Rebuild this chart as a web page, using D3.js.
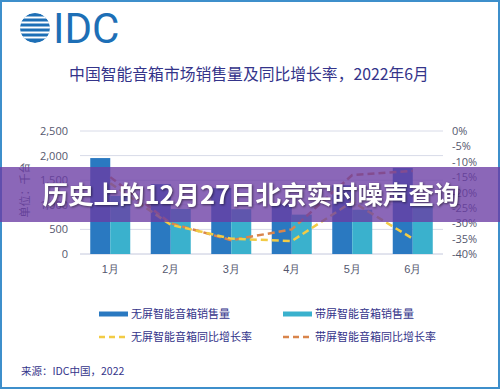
<!DOCTYPE html>
<html>
<head>
<meta charset="utf-8">
<script src="https://cdn.jsdelivr.net/npm/d3@7"></script>
<style>
  html, body { margin: 0; padding: 0; background: #fff; }
  svg { display: block; font-family: "Noto Sans CJK SC", "Noto Sans", sans-serif; }
</style>
</head>
<body>
<div id="chart"></div>
<script>
var width = 500, height = 389;

// data
var months = ["1月", "2月", "3月", "4月", "5月", "6月"];
var noScreenSales = [1950, 1420, 1340, 1020, 1400, 1750];
var screenSales = [1180, 915, 910, 800, 900, 1030];
var noScreenGrowth = [-17, -30.5, -35, -35.8, -23, -35];
var screenGrowth = [-15, -30, -35.5, -32, -14.3, -13];
var leftTicks = [0, 500, 1000, 1500, 2000, 2500];
var rightTicks = [0, -5, -10, -15, -20, -25, -30, -35, -40];

var svg = d3.select("#chart").append("svg")
    .attr("width", width)
    .attr("height", height);

svg.append("rect")
    .attr("x", 1).attr("y", 1)
    .attr("width", width - 2).attr("height", height - 2)
    .attr("fill", "#fff")
    .attr("stroke", "#3d8fcb")
    .attr("stroke-width", 2);

// IDC logo
var logo = svg.append("g");
logo.append("clipPath").attr("id", "globe")
    .append("circle").attr("cx", 35).attr("cy", 28).attr("r", 15);
var g = logo.append("g").attr("clip-path", "url(#globe)");
g.append("circle").attr("cx", 35).attr("cy", 28).attr("r", 15).attr("fill", "#1d6fb6");
[16.5, 21.5, 26.5, 31.5, 36.5].forEach(function (y) {
    g.append("rect").attr("x", 18).attr("y", y).attr("width", 34).attr("height", 2).attr("fill", "#fff");
});
logo.append("text")
    .attr("x", 53).attr("y", 43)
    .attr("fill", "#1d6fb6")
    .style("font-family", "Roboto, 'DejaVu Sans', sans-serif")
    .style("font-size", "42px")
    .text("IDC");

svg.append("text")
    .attr("x", 249).attr("y", 80)
    .attr("text-anchor", "middle")
    .attr("fill", "#34348a")
    .style("font-size", "15.8px")
    .text("中国智能音箱市场销售量及同比增长率，2022年6月");

var x = d3.scaleBand().domain(months).range([80, 443]);
var y = d3.scaleLinear().domain([0, 2500]).range([254, 131]);
var y2 = d3.scaleLinear().domain([-40, 0]).range([254, 131]);

// gridlines
svg.append("g")
    .selectAll("line")
    .data(leftTicks)
    .enter().append("line")
    .attr("x1", 80).attr("x2", 443)
    .attr("y1", function (d) { return y(d); })
    .attr("y2", function (d) { return y(d); })
    .attr("stroke", function (d) { return d === 0 ? "#c4c8dc" : "#d8dbe8"; })
    .attr("stroke-width", 1);

var leftAxis = svg.append("g")
    .attr("transform", "translate(71,0)")
    .call(d3.axisLeft(y).tickValues(leftTicks).tickSize(0).tickFormat(d3.format(",")));
leftAxis.select(".domain").remove();
leftAxis.selectAll("text").attr("fill", "#55576e").style("font-size", "11px")
    .style("font-family", "'Open Sans', 'Noto Sans', sans-serif");

var rightAxis = svg.append("g")
    .attr("transform", "translate(449,0)")
    .call(d3.axisRight(y2).tickValues(rightTicks).tickSize(0).tickFormat(function (d) { return d + "%"; }));
rightAxis.select(".domain").remove();
rightAxis.selectAll("text").attr("fill", "#55576e").style("font-size", "11px")
    .style("font-family", "'Open Sans', 'Noto Sans', sans-serif");

var bottomAxis = svg.append("g")
    .attr("transform", "translate(0,262)")
    .call(d3.axisBottom(x).tickSize(0));
bottomAxis.select(".domain").remove();
bottomAxis.selectAll("text").attr("fill", "#55576e").style("font-size", "11px");

svg.append("text")
    .attr("transform", "translate(29,190) rotate(-90)")
    .attr("text-anchor", "middle")
    .attr("fill", "#55576e")
    .style("font-size", "11px")
    .text("单位：千台");

// bars
var bw = 20;
svg.append("g").selectAll("rect")
    .data(noScreenSales)
    .enter().append("rect")
    .attr("x", function (d, i) { return x(months[i]) + x.bandwidth() / 2 - bw; })
    .attr("y", function (d) { return y(d); })
    .attr("width", bw)
    .attr("height", function (d) { return y(0) - y(d); })
    .attr("fill", "#2a79c1");

svg.append("g").selectAll("rect")
    .data(screenSales)
    .enter().append("rect")
    .attr("x", function (d, i) { return x(months[i]) + x.bandwidth() / 2; })
    .attr("y", function (d) { return y(d); })
    .attr("width", bw)
    .attr("height", function (d) { return y(0) - y(d); })
    .attr("fill", "#3ab1cd");

var line = d3.line()
    .x(function (d, i) { return x(months[i]) + x.bandwidth() / 2; })
    .y(function (d) { return y2(d); });

svg.append("path")
    .datum(screenGrowth)
    .attr("d", line)
    .attr("fill", "none")
    .attr("stroke", "#d9854c")
    .attr("stroke-width", 2.5)
    .attr("stroke-dasharray", "7,4");

svg.append("path")
    .datum(noScreenGrowth)
    .attr("d", line)
    .attr("fill", "none")
    .attr("stroke", "#f2cb45")
    .attr("stroke-width", 2.5)
    .attr("stroke-dasharray", "7,4");

// legend
var legendItems = [
    { label: "无屏智能音箱销售量", color: "#2a79c1", dash: null, x: 99, y: 314 },
    { label: "带屏智能音箱销售量", color: "#3ab1cd", dash: null, x: 283, y: 314 },
    { label: "无屏智能音箱同比增长率", color: "#f2cb45", dash: "6,4", x: 99, y: 337 },
    { label: "带屏智能音箱同比增长率", color: "#d9854c", dash: "6,4", x: 283, y: 337 }
];
var legend = svg.append("g").selectAll("g")
    .data(legendItems)
    .enter().append("g");
legend.append("line")
    .attr("x1", function (d) { return d.x; })
    .attr("x2", function (d) { return d.x + 29; })
    .attr("y1", function (d) { return d.y; })
    .attr("y2", function (d) { return d.y; })
    .attr("stroke", function (d) { return d.color; })
    .attr("stroke-width", function (d) { return d.dash ? 2.5 : 5; })
    .attr("stroke-dasharray", function (d) { return d.dash; });
legend.append("text")
    .attr("x", function (d) { return d.x + 32; })
    .attr("y", function (d) { return d.y + 4; })
    .attr("fill", "#34348a")
    .style("font-size", "11px")
    .text(function (d) { return d.label; });

svg.append("text")
    .attr("x", 21).attr("y", 375)
    .attr("fill", "#34348a")
    .style("font-size", "10.5px")
    .text("来源：IDC中国，2022");

// overlay banner
svg.append("rect")
    .attr("x", 0).attr("y", 167)
    .attr("width", width).attr("height", 55)
    .attr("fill", "rgb(106,60,164)")
    .attr("opacity", 0.78);

svg.append("text")
    .attr("x", 251).attr("y", 204)
    .attr("text-anchor", "middle")
    .attr("fill", "#fff")
    .style("font-size", "25.5px")
    .style("font-weight", "bold")
    .style("filter", "drop-shadow(1px 1px 1px rgba(0,0,0,0.5))")
    .text("历史上的12月27日北京实时噪声查询");
</script>
</body>
</html>
